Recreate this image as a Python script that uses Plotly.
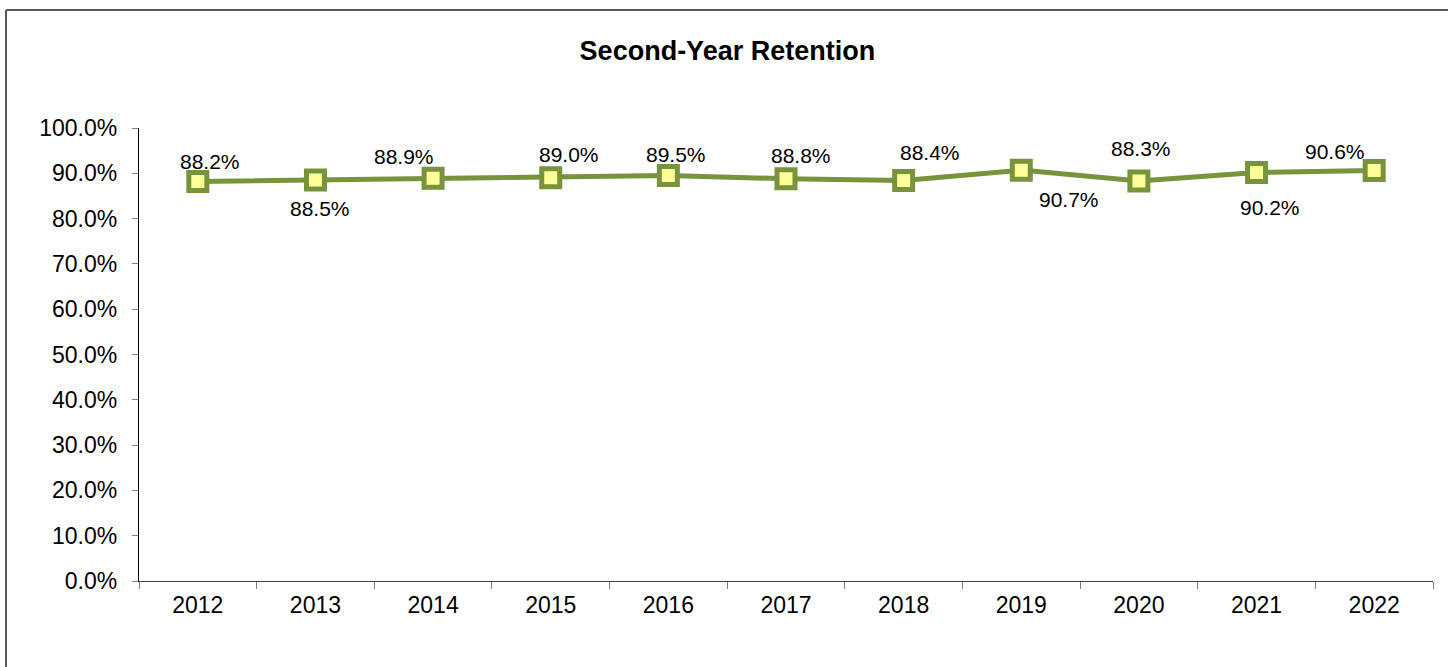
import plotly.graph_objects as go

years = ["2012", "2013", "2014", "2015", "2016", "2017", "2018", "2019", "2020", "2021", "2022"]
retention = [88.2, 88.5, 88.9, 89.0, 89.5, 88.8, 88.4, 90.7, 88.3, 90.2, 90.6]
title_text = "Second-Year Retention"

# label offsets in pixels (style only)
label_dx = [12, 5, -29, 18, 8, 15, 26, 48, 2, 13, -39]
label_dy = [-20, 28, -22, -23, -21, -23, -28, 29, -33, 35, -19]

GREEN = "#77933C"
FILL = "#FFFF99"
FONT = "Liberation Sans"

W, H = 1448, 667
L, R, T, B = 139, 1448 - 1433, 128, 667 - 581
pw, ph = W - L - R, H - T - B

fig = go.Figure()
fig.add_trace(go.Scatter(
    x=years, y=retention, mode="lines+markers",
    line=dict(color=GREEN, width=5),
    marker=dict(symbol="square", size=18, color=FILL, line=dict(color=GREEN, width=5)),
    showlegend=False, hoverinfo="skip", cliponaxis=False,
))

annotations = []
for i, (v, dx, dy) in enumerate(zip(retention, label_dx, label_dy)):
    annotations.append(dict(
        x=i, y=v, xref="x", yref="y", text=f"{v:.1f}%", showarrow=False,
        xanchor="center", yanchor="middle", xshift=dx, yshift=-dy,
        font=dict(family=FONT, size=21, color="#000000"),
    ))

# outer chart frame: only its top and left edges fall inside the window
bx0, by0 = (6 - L) / pw, (581 - 10) / ph
border = dict(color="#595959", width=2)
shapes = [
    dict(type="line", xref="paper", yref="paper", x0=bx0, x1=(W + 20 - L) / pw,
         y0=by0, y1=by0, line=border, layer="below"),
    dict(type="line", xref="paper", yref="paper", x0=bx0, x1=bx0,
         y0=by0, y1=-(H + 20 - 581) / ph, line=border, layer="below"),
]

fig.update_layout(
    width=W, height=H,
    margin=dict(l=L, r=R, t=T, b=B),
    paper_bgcolor="white", plot_bgcolor="white",
    font=dict(family=FONT, color="#000000"),
    annotations=annotations,
    shapes=shapes,
    title=dict(
        text=f"<b>{title_text}</b>", xref="container", yref="container",
        x=727.4 / W, y=1 - 51 / H, xanchor="center", yanchor="middle",
        font=dict(family=FONT, size=27, color="#000000"),
    ),
)

fig.update_xaxes(
    type="category", range=[-0.5, len(years) - 0.5],
    showline=True, linecolor="#404040", linewidth=1.3,
    ticks="outside", tickson="boundaries", ticklen=7, tickcolor="#808080", tickwidth=1.3,
    showgrid=False, zeroline=False, ticklabelstandoff=3,
    tickfont=dict(family=FONT, size=23, color="#000000"),
)
fig.update_yaxes(
    range=[0, 100], tickmode="linear", tick0=0, dtick=10,
    tickformat=".1f", ticksuffix="%",
    showline=True, linecolor="#000000", linewidth=1.3,
    ticks="outside", ticklen=6, tickcolor="#808080", tickwidth=1.3,
    showgrid=False, zeroline=False, ticklabelstandoff=10,
    tickfont=dict(family=FONT, size=23, color="#000000"),
)

fig.write_html("out.html", config={"displayModeBar": False},
               post_script="document.body.style.margin='0';document.body.style.overflow='hidden';")
